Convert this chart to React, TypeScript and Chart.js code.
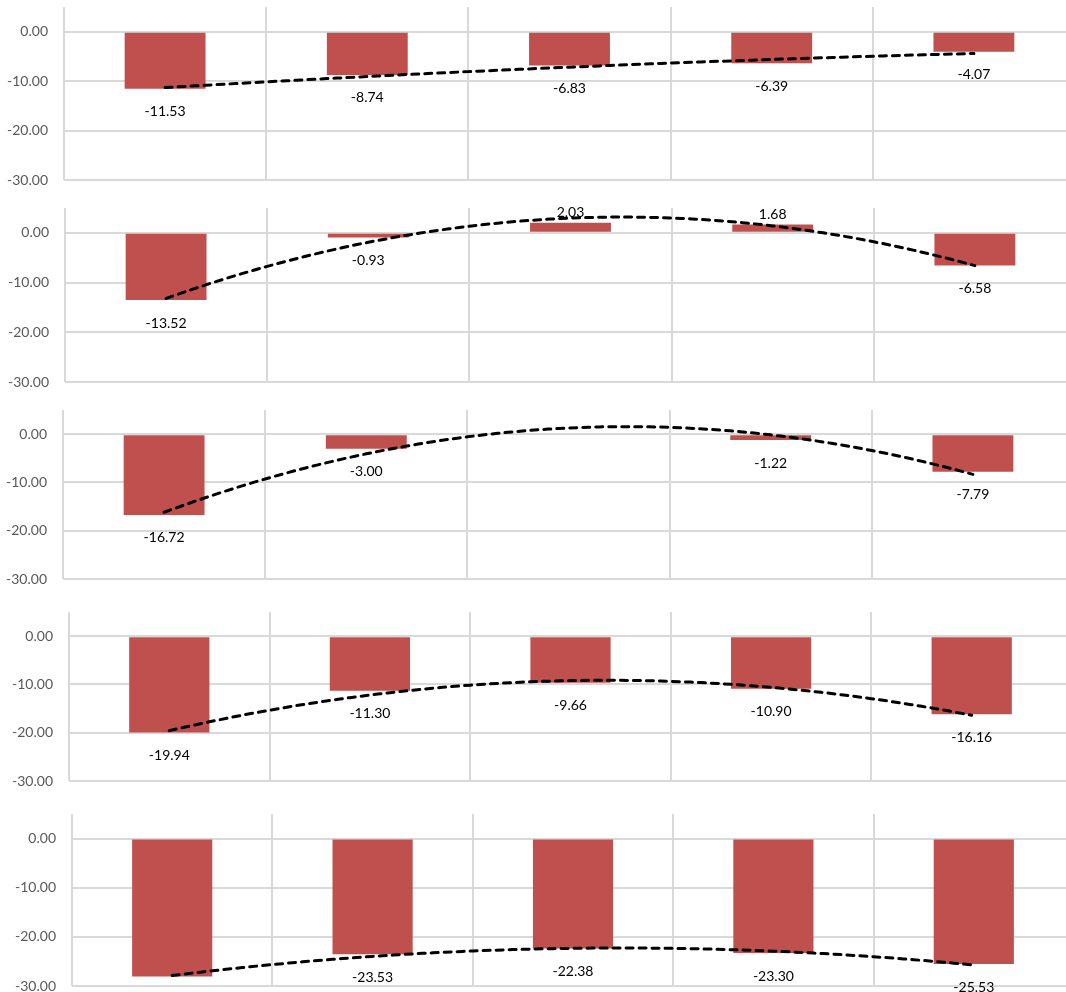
import React, { useEffect, useRef } from "react";
import { Chart, registerables } from "chart.js";

Chart.register(...registerables);

// ---- data ----
const CATEGORIES = ["1", "2", "3", "4", "5"];
const SERIES_1 = [-11.53, -8.74, -6.83, -6.39, -4.07];
const SERIES_2 = [-13.52, -0.93, 2.03, 1.68, -6.58];
const SERIES_3 = [-16.72, -3.0, null, -1.22, -7.79];
const SERIES_4 = [-19.94, -11.3, -9.66, -10.9, -16.16];
const SERIES_5 = [-28.08, -23.53, -22.38, -23.3, -25.53];
const Y_TICKS = [0, -10, -20, -30];
const Y_MIN = -30;
const Y_MAX = 5;

// ---- layout (positions only) ----
const PANEL_BOXES = [
  { top: 7, bottom: 180, left: 64, right: 1075 },
  { top: 208, bottom: 382, left: 65, right: 1076 },
  { top: 410, bottom: 579, left: 63, right: 1074 },
  { top: 612, bottom: 781, left: 69, right: 1072 },
  { top: 814, bottom: 986, left: 72, right: 1074 },
];
const PAD_TOP = 10;
const PAD_BOTTOM = 14;

const BAR_COLOR = "#C0504D";
const GRID_COLOR = "#D9D9D9";
const FONT_FAMILY = "Lato, 'Open Sans', sans-serif";

// Excel-style polynomial (order 2) trendline: least squares fit on non-blank points
function fitQuadratic(values: (number | null)[]) {
  const pts: [number, number][] = [];
  values.forEach((v, i) => {
    if (v !== null && v !== undefined) pts.push([i + 1, v]);
  });
  const S = [0, 0, 0, 0, 0];
  const T = [0, 0, 0];
  for (const [x, y] of pts) {
    for (let k = 0; k < 5; k++) S[k] += Math.pow(x, k);
    for (let k = 0; k < 3; k++) T[k] += Math.pow(x, k) * y;
  }
  const M = [
    [S[0], S[1], S[2], T[0]],
    [S[1], S[2], S[3], T[1]],
    [S[2], S[3], S[4], T[2]],
  ];
  for (let i = 0; i < 3; i++) {
    let p = i;
    for (let r = i + 1; r < 3; r++) if (Math.abs(M[r][i]) > Math.abs(M[p][i])) p = r;
    [M[i], M[p]] = [M[p], M[i]];
    for (let r = 0; r < 3; r++) {
      if (r === i) continue;
      const f = M[r][i] / M[i][i];
      for (let c = i; c < 4; c++) M[r][c] -= f * M[i][c];
    }
  }
  const a = M[0][3] / M[0][0];
  const b = M[1][3] / M[1][1];
  const c = M[2][3] / M[2][2];
  const out: { x: number; y: number }[] = [];
  const first = 1;
  const last = values.length;
  const steps = 80;
  for (let s = 0; s <= steps; s++) {
    const x = first + ((last - first) * s) / steps;
    out.push({ x, y: a + b * x + c * x * x });
  }
  return out;
}

const labelPlugin = {
  id: "valueLabels",
  afterDatasetsDraw(chart: any) {
    const ctx = chart.ctx;
    chart.data.datasets.forEach((ds: any, di: number) => {
      if (ds.type === "line") return;
      const meta = chart.getDatasetMeta(di);
      meta.data.forEach((el: any, i: number) => {
        const v = ds.data[i];
        if (v === null || v === undefined) return;
        const y = v < 0 ? el.y + 23 : el.y - 10;
        ctx.save();
        ctx.font = `14px ${FONT_FAMILY}`;
        ctx.fillStyle = "#000000";
        ctx.textAlign = "center";
        ctx.textBaseline = "middle";
        ctx.fillText(v.toFixed(2), el.x, y);
        ctx.restore();
      });
    });
  },
};

function Panel({ values, box }: { values: (number | null)[]; box: any }) {
  const ref = useRef<HTMLCanvasElement | null>(null);
  const width = box.right;
  const height = box.bottom - box.top + PAD_TOP + PAD_BOTTOM;

  useEffect(() => {
    if (!ref.current) return;
    const trend = fitQuadratic(values);
    const chart = new Chart(ref.current, {
      type: "bar",
      data: {
        labels: CATEGORIES,
        datasets: [
          {
            type: "line",
            data: trend as any,
            xAxisID: "x2",
            yAxisID: "y",
            borderColor: "#000000",
            borderWidth: 3,
            borderDash: [7, 6],
            borderCapStyle: "round",
            pointRadius: 0,
            fill: false,
            tension: 0,
            order: 0,
          } as any,
          {
            type: "bar",
            data: values as any,
            xAxisID: "x",
            yAxisID: "y",
            backgroundColor: BAR_COLOR,
            borderWidth: 0,
            grouped: false,
            categoryPercentage: 1,
            barPercentage: 0.4,
            order: 1,
          } as any,
        ],
      },
      options: {
        animation: false,
        responsive: false,
        maintainAspectRatio: false,
        layout: { padding: { top: PAD_TOP, bottom: PAD_BOTTOM, left: 0, right: 0 } },
        plugins: { legend: { display: false }, tooltip: { enabled: false } },
        scales: {
          x: {
            type: "category",
            position: "bottom",
            offset: true,
            grid: { display: true, offset: true, color: GRID_COLOR, lineWidth: 2, drawTicks: false },
            border: { display: false },
            ticks: { display: false },
            afterFit: (s: any) => {
              s.height = 0;
            },
          },
          x2: {
            type: "linear",
            display: false,
            offset: false,
            grid: { offset: false },
            min: 0.5,
            max: 5.5,
          },
          y: {
            type: "linear",
            min: Y_MIN,
            max: Y_MAX,
            afterBuildTicks: (s: any) => {
              s.ticks = Y_TICKS.map((v) => ({ value: v }));
            },
            grid: { color: GRID_COLOR, lineWidth: 2, drawTicks: false },
            border: { display: false },
            ticks: {
              padding: 16,
              color: "#595959",
              font: { family: FONT_FAMILY, size: 14 },
              callback: (v: any) => Number(v).toFixed(2),
            },
            afterFit: (s: any) => {
              s.width = box.left;
              s.paddingTop = 0;
              s.paddingBottom = 0;
            },
          },
        },
      } as any,
      plugins: [labelPlugin],
    });
    return () => chart.destroy();
  }, [values, box]);

  return (
    <canvas
      ref={ref}
      width={width}
      height={height}
      style={{
        position: "absolute",
        left: 0,
        top: box.top - PAD_TOP,
        width: width,
        height: height,
      }}
    />
  );
}

const ALL_SERIES = [SERIES_1, SERIES_2, SERIES_3, SERIES_4, SERIES_5];

export default function App() {
  return (
    <div
      style={{
        position: "fixed",
        left: 0,
        top: 0,
        width: 1066,
        height: 992,
        overflow: "hidden",
        background: "#ffffff",
      }}
    >
      {ALL_SERIES.map((vals, i) => (
        <Panel key={i} values={vals} box={PANEL_BOXES[i]} />
      ))}
    </div>
  );
}
